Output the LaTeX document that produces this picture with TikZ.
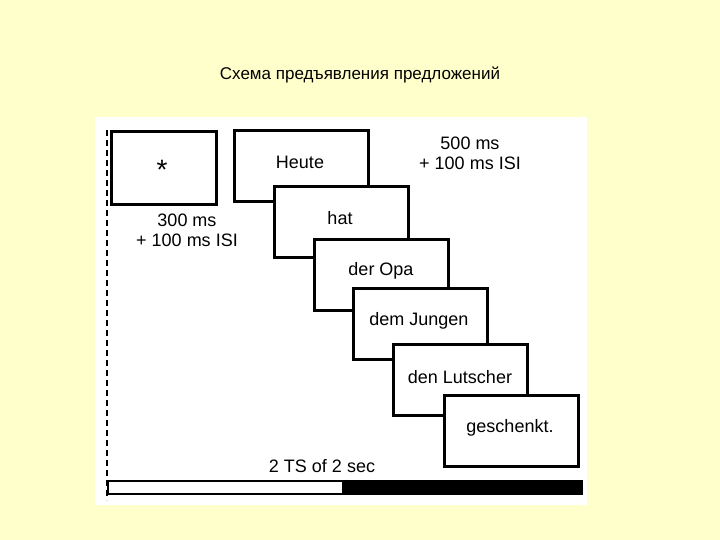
\documentclass[tikz,border=0pt]{standalone}
\usepackage{fontspec}
\setmainfont{Liberation Sans}
\begin{document}
\begin{tikzpicture}[x=1pt,y=-1pt,
  stim/.style={draw=black,line width=2.6pt,fill=white,minimum width=134pt,minimum height=71pt,anchor=north west,inner sep=0pt},
  lbl/.style={font=\fontsize{18}{20}\selectfont,align=center,inner sep=0pt}]
\fill[fill={rgb,255:red,255;green,255;blue,204}] (0,0) rectangle (720,540);
\useasboundingbox (0,0) rectangle (720,540);
\node[font=\fontsize{17}{19}\selectfont] (title) at (360,75) {Схема предъявления предложений};
\fill[white] (95,117) rectangle (587,505);
\coordinate (dtop) at (107,130);
\coordinate (dbot) at (107,500);
\draw[line width=2.4pt,dash pattern=on 6pt off 4pt] (dtop) -- (dbot);
\node[stim,minimum width=105pt,minimum height=73pt] (star) at (110,130) {};
\node[lbl,font=\fontsize{28}{28}\selectfont] (s) at (162,170) {*};
\node[stim] (b1) at (233,129) {};
\node[lbl] (l1) at (300,162) {Heute};
\node[stim] (b2) at (273,185) {};
\node[lbl] (l2) at (340,218) {hat};
\node[stim] (b3) at (313,238) {};
\node[lbl] (l3) at (381,271) {der Opa};
\node[stim] (b4) at (352,287) {};
\node[lbl] (l4) at (419,321) {dem Jungen};
\node[stim] (b5) at (392,343) {};
\node[lbl] (l5) at (460,377) {den Lutscher};
\node[stim] (b6) at (443,394) {};
\node[lbl] (l6) at (510,428) {geschenkt.};
\node[lbl] (t1) at (187,230) {300 ms\\+ 100 ms ISI};
\node[lbl] (t2) at (470,153) {500 ms\\+ 100 ms ISI};
\node[lbl] (t3) at (322,466) {2 TS of 2 sec};
\draw[line width=2pt,fill=white] (108,481) rectangle (343,494);
\fill[black] (343,480) rectangle (583,495);
\end{tikzpicture}
\end{document}
